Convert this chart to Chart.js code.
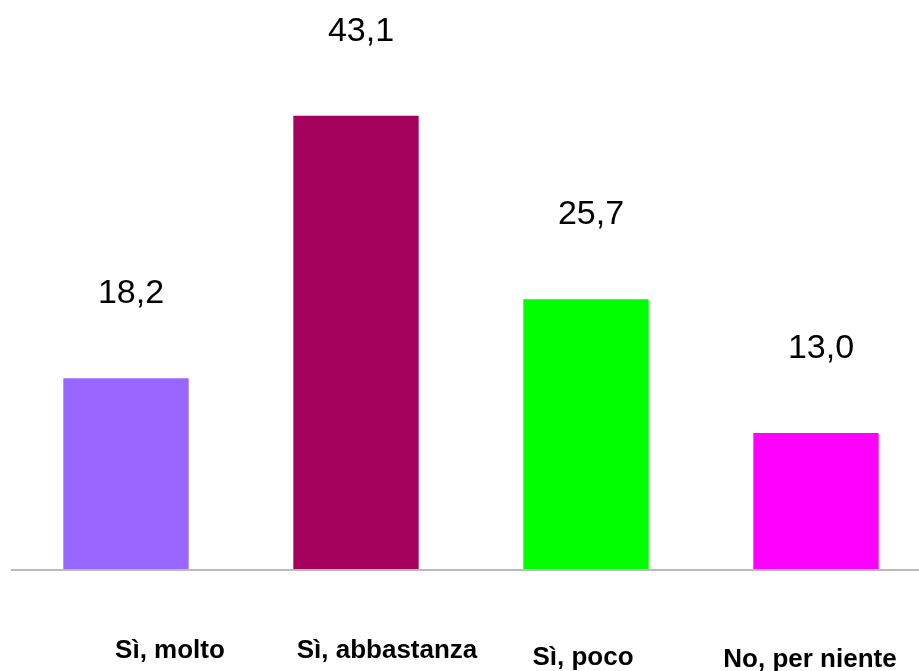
<!DOCTYPE html>
<html>
<head>
<meta charset="utf-8">
<script src="https://cdn.jsdelivr.net/npm/chart.js@4"></script>
<style>
  html, body { margin: 0; padding: 0; background: #ffffff; overflow: hidden; }
  #wrap { width: 931px; height: 671px; position: relative; }
</style>
</head>
<body>
<div id="wrap"><canvas id="c"></canvas></div>
<script>
const categories = ["Sì, molto", "Sì, abbastanza", "Sì, poco", "No, per niente"];
const values = [18.2, 43.1, 25.7, 13.0];
const valueLabels = ["18,2", "43,1", "25,7", "13,0"];
const barColors = ["#9966FF", "#A4025C", "#00FF00", "#FF00FF"];

const labelPlugin = {
  id: 'customLabels',
  afterDatasetsDraw(chart, args, opts) {
    const ctx = chart.ctx;
    const xs = chart.scales.x, ys = chart.scales.y;
    const meta = chart.getDatasetMeta(0);
    ctx.save();
    // baseline
    const y0 = ys.getPixelForValue(0);
    ctx.strokeStyle = '#BBBBBB';
    ctx.lineWidth = 2;
    ctx.beginPath();
    ctx.moveTo(11, y0);
    ctx.lineTo(chart.width, y0);
    ctx.stroke();
    // value labels
    ctx.fillStyle = '#000000';
    ctx.textAlign = 'center';
    ctx.textBaseline = 'alphabetic';
    ctx.font = '34px "Liberation Sans", Arial, sans-serif';
    meta.data.forEach((bar, i) => {
      ctx.fillText(valueLabels[i], bar.x + opts.valueDx, bar.y - opts.valueGap);
    });
    // category labels
    ctx.font = 'bold 26px "Liberation Sans", Arial, sans-serif';
    categories.forEach((c, i) => {
      ctx.fillText(c, xs.getPixelForValue(i) + opts.catDx[i], y0 + opts.catDy[i]);
    });
    ctx.restore();
  }
};

new Chart(document.getElementById('c'), {
  type: 'bar',
  data: {
    labels: categories,
    datasets: [{
      data: values,
      backgroundColor: barColors,
      borderWidth: 0,
      barPercentage: 0.545,
      categoryPercentage: 1.0
    }]
  },
  options: {
    responsive: true,
    maintainAspectRatio: false,
    animation: false,
    layout: { padding: { left: 11, right: 0, top: 1, bottom: 101 } },
    plugins: {
      legend: { display: false },
      tooltip: { enabled: false },
      customLabels: {
        valueDx: 5,
        valueGap: 75,
        catDx: [44, 31, -3, -6],
        catDy: [88, 88, 95, 97]
      }
    },
    scales: {
      x: { display: false },
      y: { display: false, min: 0, max: 54 }
    }
  },
  plugins: [labelPlugin]
});
</script>
</body>
</html>
